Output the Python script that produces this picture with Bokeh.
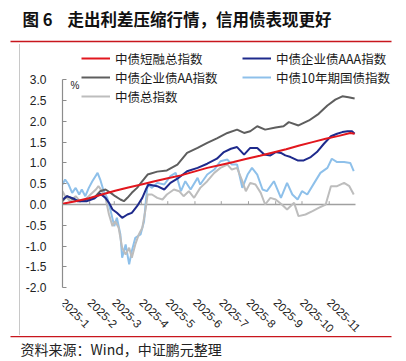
import math
from bokeh.plotting import figure
from bokeh.models import (Range1d, FixedTicker, NumeralTickFormatter, Label,
                          Legend, LegendItem, BoxAnnotation, LinearAxis, Spacer)
from bokeh.layouts import column, row
from bokeh.embed import file_html
from bokeh.resources import INLINE

# ---------------- data (x = days since 2025-01-01) ----------------
month_days = [0, 31, 59, 90, 120, 151, 181, 212, 243, 273, 304]
month_labels = ["2025-1", "2025-2", "2025-3", "2025-4", "2025-5", "2025-6",
                "2025-7", "2025-8", "2025-9", "2025-10", "2025-11"]
axis_end_day = 334  # 2025-12-01, right end of the date axis
y_ticks = [-2.0, -1.5, -1.0, -0.5, 0.0, 0.5, 1.0, 1.5, 2.0, 2.5, 3.0]

short_days = [0, 15, 30, 45, 60, 75, 90, 105, 120, 135, 150, 165, 180, 195, 210,
              225, 240, 255, 270, 285, 300, 315, 328, 333]
short_vals = [0.02, 0.08, 0.15, 0.24, 0.33, 0.41, 0.48, 0.56, 0.63, 0.70, 0.79, 0.88,
              0.95, 1.02, 1.10, 1.17, 1.25, 1.33, 1.42, 1.50, 1.58, 1.65, 1.72, 1.70]

aaa_days = [0, 5, 13, 17, 28, 36, 43, 49, 53, 57, 62, 68, 74, 79, 85, 91, 95, 98, 108,
            116, 123, 131, 142, 154, 165, 176, 184, 192, 199, 207, 214, 222, 230, 237,
            243, 249, 254, 260, 268, 275, 283, 290, 298, 306, 313, 319, 325, 330, 333]
aaa_vals = [0.12, 0.20, 0.14, 0.08, 0.08, 0.14, 0.26, 0.16, 0.04, -0.12, -0.20, -0.32,
            -0.24, -0.20, -0.04, 0.16, 0.36, 0.48, 0.44, 0.36, 0.52, 0.62, 0.80, 0.88,
            0.98, 1.10, 1.26, 1.34, 1.38, 1.20, 1.36, 1.36, 1.20, 1.18, 1.26, 1.24, 1.18,
            1.14, 1.06, 1.06, 1.14, 1.26, 1.46, 1.64, 1.70, 1.74, 1.76, 1.76, 1.70]

aa_days = [0, 5, 13, 20, 28, 36, 43, 49, 55, 60, 66, 70, 74, 79, 85, 91, 97, 108, 119,
           131, 142, 154, 165, 176, 188, 199, 207, 214, 222, 231, 243, 252, 258, 269,
           281, 292, 302, 311, 319, 326, 333]
aa_vals = [0.08, 0.20, 0.12, 0.08, 0.12, 0.16, 0.32, 0.36, 0.28, 0.20, 0.12, 0.08, 0.16,
           0.28, 0.40, 0.56, 0.72, 0.79, 0.82, 0.96, 1.24, 1.36, 1.48, 1.59, 1.72, 1.80,
           1.72, 1.76, 1.88, 1.80, 1.85, 1.88, 1.98, 1.90, 2.02, 2.18, 2.38, 2.52, 2.60,
           2.58, 2.55]

gov10_days = [0, 3, 7, 11, 15, 19, 22, 26, 30, 34, 40, 43, 47, 51, 55, 59, 62, 66, 68,
              72, 76, 79, 83, 89, 93, 95, 97, 102, 108, 116, 123, 129, 135, 140, 146,
              154, 157, 165, 173, 180, 188, 193, 199, 205, 211, 216, 222, 228, 233, 241,
              249, 256, 262, 268, 273, 279, 287, 294, 302, 307, 313, 321, 328, 332]
gov10_vals = [0.48, 0.60, 0.48, 0.28, 0.40, 0.24, 0.36, 0.20, 0.40, 0.56, 0.76, 0.60,
              0.32, 0.16, -0.16, -0.52, -0.32, -0.72, -1.28, -0.96, -1.44, -1.12, -0.80,
              -0.72, -0.40, 0.08, 0.48, 0.40, 0.52, 0.48, 0.68, 0.76, 0.32, 0.56, 0.36,
              0.64, 0.48, 0.72, 0.84, 1.04, 1.08, 0.96, 0.96, 0.40, 0.72, 0.88, 0.72,
              0.36, 0.32, 0.56, 0.16, 0.52, 0.24, 0.12, 0.32, 0.24, 0.52, 0.76, 0.88,
              1.10, 1.02, 1.02, 1.00, 0.80]

total_days = [0, 3, 9, 15, 20, 26, 32, 38, 41, 45, 49, 53, 57, 60, 64, 68, 72, 76, 79,
              83, 87, 91, 95, 97, 102, 108, 114, 119, 127, 133, 138, 144, 150, 157, 165,
              173, 180, 188, 193, 199, 205, 209, 214, 220, 226, 231, 237, 243, 250, 256,
              264, 269, 277, 285, 292, 300, 306, 313, 321, 327, 332]
total_vals = [0.32, 0.20, 0.08, 0.20, 0.08, 0.12, 0.24, 0.36, 0.44, 0.32, 0.16, -0.24,
              -0.52, -0.40, -0.56, -1.04, -1.20, -1.04, -1.28, -0.96, -0.72, -0.56,
              -0.08, 0.24, 0.24, 0.16, 0.12, 0.24, 0.36, 0.32, 0.20, 0.32, 0.16, 0.40,
              0.56, 0.76, 0.88, 0.96, 0.84, 0.88, 0.56, 0.32, 0.52, 0.48, 0.28, 0.00,
              0.16, 0.12, 0.00, -0.12, 0.04, -0.28, -0.24, -0.16, -0.08, 0.00, 0.44,
              0.44, 0.52, 0.44, 0.24]

names = ["中债短融总指数", "中债企业债AAA指数", "中债企业债AA指数", "中债10年期国债指数", "中债总指数"]
colors = ["#E2171E", "#1E2A8C", "#5E5E5E", "#8EC0EA", "#BDBDBD"]

CJK = "Noto Sans CJK SC"
W = 406

# ---------------- title figure ----------------
tfig = figure(width=W, height=44, x_range=Range1d(0, W), y_range=Range1d(0, 44),
              output_backend="svg", toolbar_location=None, min_border=0)
tfig.axis.visible = False
tfig.grid.visible = False
tfig.outline_line_color = None
tfig.add_layout(Label(x=22, y=26, text="图 6", text_font=CJK, text_font_size="16.5px",
                      text_font_style="bold", text_color="#111111", text_baseline="middle"))
tfig.add_layout(Label(x=67, y=26, text="走出利差压缩行情，信用债表现更好", text_font=CJK,
                      text_font_size="16.5px", text_font_style="bold", text_color="#111111",
                      text_baseline="middle"))
tfig.add_layout(BoxAnnotation(left=10, right=391, bottom=2.2, top=3.8, fill_color="#C8161D",
                              fill_alpha=1, line_color=None))

# ---------------- main figure ----------------
p = figure(width=386, height=291, x_range=Range1d(0, 385.3), y_range=Range1d(-3.149, 3.846),
           output_backend="svg", toolbar_location=None,
           min_border_left=42, min_border_right=6, min_border_top=0, min_border_bottom=0,
           x_axis_location=None, y_axis_location=None)
p.grid.visible = False
p.outline_line_color = None
p.border_fill_color = "white"

yaxis = LinearAxis(ticker=FixedTicker(ticks=y_ticks), formatter=NumeralTickFormatter(format="0.0"),
                   bounds=(-2.0, 3.0), axis_line_color="#8c8c8c", axis_line_width=1.2,
                   major_tick_line_color="#8c8c8c", major_tick_in=4, major_tick_out=0,
                   minor_tick_line_color=None, major_label_standoff=16,
                   major_label_text_font="Liberation Sans", major_label_text_font_size="12px",
                   major_label_text_color="#222222")
p.add_layout(yaxis, "left")

xaxis = LinearAxis(ticker=FixedTicker(ticks=month_days), fixed_location=-2.0,
                   major_label_overrides={d: s for d, s in zip(month_days, month_labels)},
                   axis_line_color=None, major_tick_line_color=None, minor_tick_line_color=None,
                   major_label_orientation=-math.pi / 4, major_label_standoff=7,
                   major_label_text_font="Liberation Sans", major_label_text_font_size="11.5px",
                   major_label_text_color="#222222")
p.add_layout(xaxis, "below")

# zero line across the date axis, with small month ticks pointing up
p.segment(x0=[month_days[0]], y0=[0], x1=[axis_end_day], y1=[0],
          line_color="#a0a0a0", line_width=1.5)
p.segment(x0=month_days[1:], y0=[0] * 10, x1=month_days[1:], y1=[0.08] * 10,
          line_color="#a0a0a0", line_width=1)

r_gov = p.line(gov10_days, gov10_vals, line_color=colors[3], line_width=2)
r_tot = p.line(total_days, total_vals, line_color=colors[4], line_width=2)
r_aa = p.line(aa_days, aa_vals, line_color=colors[2], line_width=2)
r_aaa = p.line(aaa_days, aaa_vals, line_color=colors[1], line_width=2)
r_short = p.line(short_days, short_vals, line_color=colors[0], line_width=2)

legend_style = dict(border_line_color=None, background_fill_alpha=0, padding=0, margin=0,
                    spacing=0, glyph_width=29, glyph_height=20, label_height=20,
                    label_standoff=5, label_text_font=CJK, label_text_font_size="12.5px",
                    label_text_color="#1a1a1a")
legend_spec = [(r_short, names[0], (19, 267)), (r_aaa, names[1], (180, 267)),
               (r_aa, names[2], (19, 248)), (r_gov, names[3], (180, 248)),
               (r_tot, names[4], (19, 229))]
for rend, name, loc in legend_spec:
    p.add_layout(Legend(items=[LegendItem(label=name, renderers=[rend])],
                        location=loc, **legend_style))

p.add_layout(Label(x=8, y=250, x_units="screen", y_units="screen", text="%",
                   text_font="Liberation Sans", text_font_size="10px", text_color="#222222",
                   text_baseline="middle"))

side = Spacer(width=20, height=291, styles={"box-shadow": "inset -1px 0 0 #c8c8c8"})

# ---------------- source figure ----------------
sfig = figure(width=W, height=26, x_range=Range1d(0, W), y_range=Range1d(0, 26),
              output_backend="svg", toolbar_location=None, min_border=0)
sfig.axis.visible = False
sfig.grid.visible = False
sfig.outline_line_color = None
sfig.add_layout(BoxAnnotation(left=10, right=391, bottom=24.2, top=25.6, fill_color="#C8161D",
                              fill_alpha=1, line_color=None))
sfig.add_layout(Label(x=20, y=13, text="资料来源：Wind，中证鹏元整理", text_font=CJK,
                      text_font_size="14px", text_color="#222222", text_baseline="middle"))

layout = column(tfig, row(side, p), sfig)
open("out.html", "w").write(file_html(layout, INLINE))
